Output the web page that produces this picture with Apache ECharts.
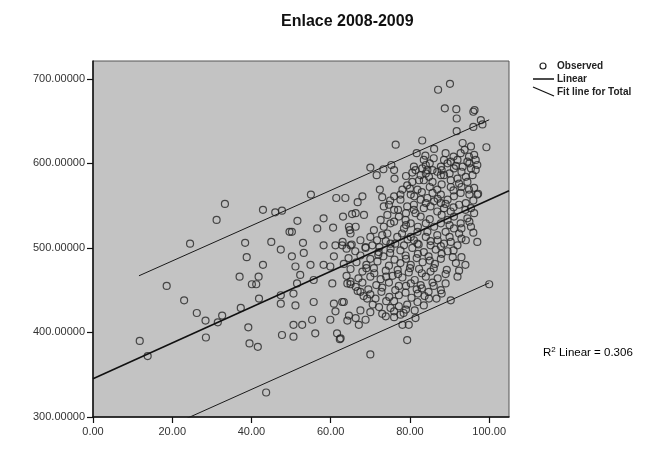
<!DOCTYPE html>
<html>
<head>
<meta charset="utf-8">
<script src="https://cdn.jsdelivr.net/npm/echarts@6/dist/echarts.min.js"></script>
<style>
html,body{margin:0;padding:0;background:#fff;}
#chart{width:646px;height:454px;}
</style>
</head>
<body>
<div id="chart"></div>
<script>
// ---- data ----
var titleText = 'Enlace 2008-2009';
var xTicks = [0, 20, 40, 60, 80, 100];
var yTicks = [300, 400, 500, 600, 700];
var legendNames = ['Observed', 'Linear', 'Fit line for Total'];
var r2Text = '0.306';

// fit line (Linear) end points
var fitX = [0, 105];
var fitY = [345.3, 567.5];
// upper and lower bounds ("Fit line for Total")
var upperX = [11.6, 100];
var upperY = [467, 651.5];
var lowerX = [11.6, 100];
var lowerY = [273, 458.6];

// observed points [x, y]
var observed = [
 [11.8,390],[13.8,372],[18.6,455],[23.0,438],[24.5,505],[26.2,423],[28.4,414],[28.5,394],[31.5,412],[32.6,420],
 [31.2,533],[33.3,552],[37.3,429],[38.8,489],[42.9,480],[37,466],[41.8,466],[40.1,457],[41.2,457],[41.9,440],
 [39.2,406],[39.5,387],[41.6,383],[43.7,329],[47.4,434],[47.7,397],[47.4,444],[47.4,498],[42.9,545],[46,542],
 [47.7,544],[38.4,506],[45,507],[49.6,519],
 [50.2,490],[53.2,494],[51.1,478],[52.3,468],[54.9,480],[55.7,462],[51.5,458],[50.6,446],[51.1,432],[55.7,436],
 [50.6,409],[52.8,409],[55.3,415],[56.1,399],[50.6,395],[59.9,478],[60.8,490],[58.2,480],[60.4,458],[60.8,434],
 [62.9,436],[61.2,425],[59.9,415],[61.6,399],[62.3,392],
 [55,563],[61.4,559],[63.7,559],[68,561],[66.8,554],[65.4,540],[68.4,539],[63.1,537],[58.2,535],[60.6,524],
 [56.6,523],[51.6,532],[50.2,519],[53,506],[64.8,521],[65,517],[58.2,503],[61.2,503],[62.9,503],[65,503],
 [68.8,501],[70,374],[79.3,391],
 [87.1,687],[90.1,694],[88.8,665],[91.7,664],[91.8,653],[96,661],[96.3,663],[97.9,651],[98.3,646],[96,643],
 [91.8,638],[99.3,619],[76.4,622],[83.1,627],[86.1,617],[81.7,612],[83.9,609],[83.5,604],[70,595],[71.6,586],
 [73.3,593],[75.3,598],[76,592],[76.1,582],[72.4,569],[79.3,574],[97,507],[97.2,564],
 [93.3,624],[93.8,616],[95.4,620],[92.8,612],[94.9,608],[96.2,610],[92,604],[94.5,602],[96.6,604],[93.3,596],
 [95.4,594],[96.6,592],[91.1,594],[94.1,584],[95.8,586],[92,582],[90.3,580],[88.6,586],[89.5,600],[87.8,596],
 [86.9,590],[87.8,586],[85.7,592],[84.8,584],[85.7,578],[84,588],[83.5,580],[90.3,602],[91.6,597],[88.6,604],
 [80.6,589],[82.7,586],[84.4,592],[81.4,592],[83.1,594],[82.3,580],[80.6,578],[80.2,563],[81.9,569],[81.1,561],
 [77.6,563],
 [82.7,557],[84.4,559],[85.7,565],[86.9,569],[87.8,563],[86.1,555],[87.8,553],[89.5,557],[91.1,561],[92.8,565],
 [94.9,569],[96.2,571],[97,563],[83.5,547],[85.2,549],[86.9,543],[88.6,547],[90.3,543],[92.4,551],[94.1,553],
 [95.4,547],[96.2,541],[90.3,572],[92.4,576],[94.5,578],
 [73.4,549],[74.7,551],[76,545],[74.3,539],[72.6,533],[73.4,525],[75.1,529],[77.2,537],[78.9,533],[78.5,523],
 [80.2,529],[81.4,541],[82.7,537],[84,529],[81.9,519],[80.2,513],[84.4,519],[86.1,525],[87.8,529],[89.5,533],
 [91.1,537],[92.8,529],[94.5,535],[86.9,515],[89,519],[91.1,523],[92.4,517],[95.4,525],[76.8,513],[75.1,505],
 [78.5,503],[81.9,505],[85.2,503],[88.6,505],[92,503],[94.1,509],[70.9,521],[70,513],[74.3,517],[79.3,549],
 [77.6,557],[81,551],[76,561],[78.1,569],[66.3,541],[64.6,525],[66.3,525],[71.7,509],[72.3,501],
 [63,507],[65.3,504],[67.5,509],[70.5,503],[73.9,508],[76.3,505],[79.4,510],[82.2,504],[85.2,508],[87.8,502],[90.3,507],
 [64,499],[66.2,496],[68.8,500],[72.1,495],[75.1,499],[77.6,497],[80.6,500],[83.5,495],[86.5,498],[89.5,496],
 [64.5,488],[67.5,491],[70,487],[73.3,490],[76.1,486],[78.9,491],[81.7,488],[84.7,490],[87.8,487],[90.8,489],
 [63.3,481],[66.5,483],[69,480],[71.8,484],[74.7,479],[77.6,482],[80.2,480],[83.2,483],[86.3,481],[91.6,482],
 [65,475],[68,472],[70.9,476],[73.9,473],[76.9,474],[79.7,471],[82.3,475],[85.2,472],[89.3,474],[92.4,473],
 [64,467],[67,464],[70,466],[72.6,463],[75.6,467],[78.1,465],[81.2,462],[84,466],[87,464],
 [65,457],[68,459],[71.5,456],[74.7,459],[77.2,455],[80.2,458],[82.7,456],[85.7,459],[89,458],[100,457],
 [66.8,449],[69.5,451],[72.8,448],[76.3,450],[78.9,447],[81.7,451],[84.7,448],[87.8,450],
 [68.3,443],[71.3,440],[74.8,442],[77.2,444],[80.4,441],[83.7,443],[86.7,440],[90.3,438],
 [63.3,436],[70.6,433],[72.2,430],[75.1,429],[77.2,431],[79.3,433],[81.9,436],[83.5,432],[84.8,440],
 [67.5,426],[70,424],[73,422],[76,425],[78.4,423],[81.2,426],
 [64.6,420],[66.3,417],[68.8,415],[73.9,419],[76,418],[77.6,421],[81.4,417],
 [67.1,409],[78.1,409],[79.7,409],[64.2,414],
 [64.2,458],[65,460],[66.3,454],[67.5,448],[69.2,440],[62.5,393],
 [79,585],[81,596],[85,600],[88,592],[90,588],[93,590],[95,600],[97,598],[91,608],[89,612],[86,606],[84,598],
 [80,570],[83,566],[85,572],[88,575],[91,568],[93,572],[95,563],[96,556],[94,545],[91,548],[89,552],[87,558],
 [84,553],[81,545],[79,541],[77,545],[75,556],[73,560],
 [76,531],[79,527],[82,525],[85,534],[88,539],[90,527],[93,523],[95,531],[96,518],[93,511],[90,513],[87,509],
 [84,513],[81,509],[78,517],[73,515],
 [72,492],[75,494],[79,487],[82,493],[85,485],[88,493],[91,497],[93,489],[94,480],[92,466],[89,469],[86,476],
 [83,470],[80,476],[77,469],[74,466],[71,470],[69,476],
 [79,455],[83,452],[86,455],[73,453],[70,445],[76,437],[82,446],[88,446],[74,437],[79,427]
];

function pairs(xs, ys){ return xs.map(function(x,i){ return [x, ys[i]]; }); }

var chart = echarts.init(document.getElementById('chart'), null, {renderer:'canvas'});
var FONT = 'Liberation Sans, Arial, sans-serif';
var option = {
  animation: false,
  backgroundColor: '#ffffff',
  title: {
    text: titleText, left: 276, top: 9,
    textStyle: {fontFamily: FONT, fontSize: 16, fontWeight: 'bold', color: '#111'}
  },
  grid: {
    left: 93, top: 61, width: 416, height: 356,
    show: true, backgroundColor: '#c3c3c3', borderColor: '#555', borderWidth: 1
  },
  xAxis: {
    type: 'value', min: 0, max: 105, interval: 20,
    axisLine: {show: true, onZero: false, lineStyle: {color: '#111', width: 1.5}},
    axisTick: {show: true, length: 6, lineStyle: {color: '#111', width: 1.2},
      customValues: xTicks},
    axisLabel: {show: true, margin: 9, fontFamily: FONT, fontSize: 11, color: '#333',
      customValues: xTicks,
      formatter: function(v){ return v.toFixed(2); }},
    splitLine: {show: false}
  },
  yAxis: {
    type: 'value', min: 300, max: 721, interval: 100,
    axisLine: {show: true, onZero: false, lineStyle: {color: '#111', width: 1.5}},
    axisTick: {show: true, length: 6, lineStyle: {color: '#111', width: 1.2},
      customValues: yTicks},
    axisLabel: {show: true, margin: 8, fontFamily: FONT, fontSize: 11, color: '#333',
      customValues: yTicks,
      formatter: function(v){ return v.toFixed(5); }},
    splitLine: {show: false}
  },
  series: [
    {
      name: legendNames[0], type: 'scatter', data: observed,
      symbol: 'circle', symbolSize: 7,
      itemStyle: {color: 'rgba(0,0,0,0)', borderColor: '#262626', borderWidth: 1.2},
      z: 3
    },
    {
      name: legendNames[1], type: 'line', data: pairs(fitX, fitY),
      showSymbol: false, clip: true,
      lineStyle: {color: '#111', width: 1.6}, z: 4
    },
    {
      name: legendNames[2], type: 'line', data: pairs(upperX, upperY),
      showSymbol: false, clip: true,
      lineStyle: {color: '#1a1a1a', width: 1}, z: 4
    },
    {
      name: legendNames[2] + ' lower', type: 'line', data: pairs(lowerX, lowerY),
      showSymbol: false, clip: true,
      lineStyle: {color: '#1a1a1a', width: 1}, z: 4
    }
  ],
  graphic: [
    {type: 'circle', shape: {cx: 543, cy: 66, r: 3}, style: {fill: 'none', stroke: '#222', lineWidth: 1.2}},
    {type: 'text', x: 557, y: 66, style: {text: legendNames[0], font: 'bold 10px ' + FONT, fill: '#222', verticalAlign: 'middle'}},
    {type: 'line', shape: {x1: 533, y1: 79, x2: 554, y2: 79}, style: {stroke: '#111', lineWidth: 1.5}},
    {type: 'text', x: 557, y: 79, style: {text: legendNames[1], font: 'bold 10px ' + FONT, fill: '#222', verticalAlign: 'middle'}},
    {type: 'line', shape: {x1: 533, y1: 87, x2: 554, y2: 96}, style: {stroke: '#111', lineWidth: 1.2}},
    {type: 'text', x: 557, y: 92, style: {text: legendNames[2], font: 'bold 10px ' + FONT, fill: '#222', verticalAlign: 'middle'}},
    {type: 'text', x: 543, y: 353, style: {
      text: '{r|R}{s|2}{r| Linear = ' + r2Text + '}',
      verticalAlign: 'middle',
      rich: {
        r: {fontFamily: FONT, fontSize: 11.5, color: '#222'},
        s: {fontFamily: FONT, fontSize: 8, color: '#222', verticalAlign: 'top', padding: [0,0,6,0]}
      }
    }}
  ]
};
chart.setOption(option);
</script>
</body>
</html>
